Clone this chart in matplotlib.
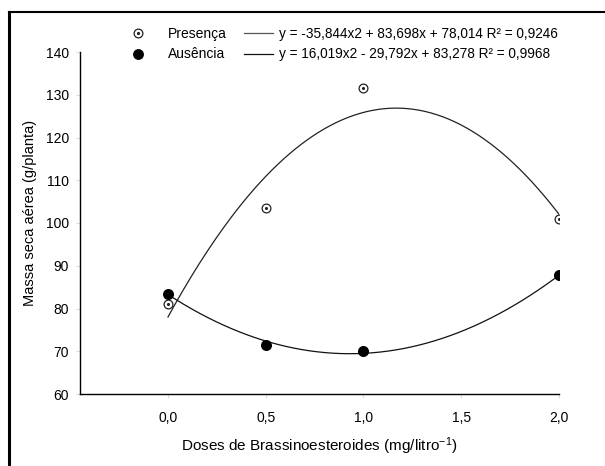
import numpy as np
import matplotlib
matplotlib.use("Agg")
import matplotlib.pyplot as plt
from matplotlib.lines import Line2D
from matplotlib.legend_handler import HandlerTuple

plt.rcParams['font.family'] = ['Liberation Sans', 'DejaVu Sans']
plt.rcParams['mathtext.fontset'] = 'custom'
plt.rcParams['mathtext.rm'] = 'Liberation Sans'

# data
doses = [0.0, 0.5, 1.0, 2.0]
presenca = [81.0, 103.5, 131.5, 101.0]
ausencia = [83.5, 71.5, 70.0, 87.8]
coef_presenca = [-35.844, 83.698, 78.014]
coef_ausencia = [16.019, -29.792, 83.278]
eq_presenca = 'y = -35,844x2 + 83,698x + 78,014 R² = 0,9246'
eq_ausencia = 'y = 16,019x2 - 29,792x + 83,278 R² = 0,9968'
xticks = [0.0, 0.5, 1.0, 1.5, 2.0]
xticklabels = ['0,0', '0,5', '1,0', '1,5', '2,0']
yticks = [60, 70, 80, 90, 100, 110, 120, 130, 140]

fig = plt.figure(figsize=(6.05, 4.66), dpi=100)
ax = fig.add_axes([80/605, 1 - 394/466, (559-80)/605, (394-52)/466])

xs = np.linspace(0, 2, 200)
ax.plot(xs, np.polyval(coef_presenca, xs), color='#222222', lw=0.9)
ax.plot(xs, np.polyval(coef_ausencia, xs), color='#111111', lw=0.9)

# open circle with a dot in the middle
ax.scatter(doses, presenca, s=40, facecolors='white', edgecolors='#222222',
           linewidths=0.9, zorder=3)
ax.scatter(doses, presenca, s=1.5, color='#222222', zorder=4)
ax.scatter(doses, ausencia, s=48, color='black', zorder=3)

ax.set_xlim(-0.45, 2.0)
ax.set_ylim(60, 140)
ax.set_xticks(xticks)
ax.set_xticklabels(xticklabels)
ax.set_yticks(yticks)
ax.tick_params(labelsize=10, length=3, color='#dddddd', width=0.8)
ax.tick_params(axis='x', pad=9)
ax.tick_params(axis='y', pad=5)
for s in ['top', 'right']:
    ax.spines[s].set_visible(False)
for s in ['left', 'bottom']:
    ax.spines[s].set_linewidth(1.0)

ax.set_ylabel('Massa seca aérea (g/planta)', fontsize=10.5)
ax.yaxis.set_label_coords(-0.104, 0.53)
ax.set_xlabel(r'Doses de Brassinoesteroides (mg/litro$\mathregular{^{-1}}$)',
              fontsize=11)
ax.xaxis.set_label_coords(0.5, -(446 - 394) / 342, transform=ax.transAxes)
ax.xaxis.label.set_va('center')
ax.yaxis.label.set_va('center')

# legend proxies
ring = Line2D([], [], ls='', marker='o', ms=6.3, mfc='white', mec='#222222', mew=0.9)
dot = Line2D([], [], ls='', marker='o', ms=1.3, color='#222222')
filled = Line2D([], [], ls='', marker='o', ms=6.8, color='black')
line1 = Line2D([], [], color='#555555', lw=0.9)
line2 = Line2D([], [], color='#111111', lw=0.9)

fig.legend([(ring, dot), filled], ['Presença', 'Ausência'],
           handler_map={tuple: HandlerTuple(ndivide=1, pad=0)},
           loc='upper left', bbox_to_anchor=(124/605, 1 - 20/466),
           frameon=False, fontsize=10, handlelength=1.0,
           handletextpad=1.65, labelspacing=0.47, borderpad=0)
fig.legend([line1, line2], [eq_presenca, eq_ausencia],
           loc='upper left', bbox_to_anchor=(237/605, 1 - 20/466),
           frameon=False, fontsize=9.8, handlelength=2.13,
           handletextpad=0.44, labelspacing=0.49, borderpad=0)

# outer frame of the figure
fig.add_artist(Line2D([9/605, 9/605], [0, 1 - 12/466], transform=fig.transFigure,
                      color='black', lw=2.2))
fig.add_artist(Line2D([9/605, 1], [1 - 12/466, 1 - 12/466], transform=fig.transFigure,
                      color='black', lw=1.5))

fig.savefig('out.png', dpi=100)
